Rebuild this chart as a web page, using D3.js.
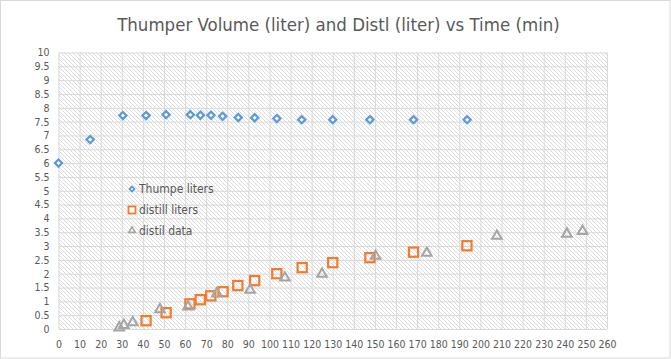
<!DOCTYPE html>
<html><head><meta charset="utf-8">
<script src="https://cdn.jsdelivr.net/npm/d3@7/dist/d3.min.js"></script>
<style>body{margin:0;background:#fff}svg{display:block}</style>
</head><body>
<svg id="c" width="671" height="359"></svg>
<script>
const title = "Thumper Volume (liter) and Distl (liter) vs Time (min)";
const thumperTime = [0, 15, 30.5, 41.5, 51, 62.5, 67.3, 72.3, 77.8, 85.2, 93, 103.5, 115.3, 130, 147.6, 168.3, 193.7];
const thumperVol  = [6.0, 6.85, 7.72, 7.72, 7.75, 7.75, 7.73, 7.73, 7.69, 7.65, 7.64, 7.61, 7.57, 7.57, 7.57, 7.57, 7.57];
const distillTime = [41.5, 51, 62.3, 67.2, 72.2, 78, 85, 93, 103.5, 115.5, 130, 147.6, 168.3, 193.6];
const distillVol  = [0.30, 0.59, 0.91, 1.06, 1.20, 1.35, 1.57, 1.75, 2.00, 2.22, 2.40, 2.58, 2.78, 3.01];
const distilTime  = [28.8, 31, 35.2, 48.1, 61.4, 75, 90.8, 107.3, 124.9, 150.3, 174.6, 207.8, 241, 248.4];
const distilVol   = [0.05, 0.14, 0.24, 0.71, 0.81, 1.28, 1.41, 1.85, 1.99, 2.64, 2.75, 3.36, 3.44, 3.54];
const xTicks = d3.range(0, 261, 10);
const yTicks = d3.range(0, 10.01, 0.5);
const legendLabels = ["Thumpe liters", "distill liters", "distil data"];

const svg = d3.select("#c");
const font = "'Liberation Sans Narrow','DejaVu Sans Condensed',sans-serif";
const txt = "#595959", grid = "#d9d9d9";
const x = d3.scaleLinear().domain([0, 260]).range([58.5, 607]);
const y = d3.scaleLinear().domain([0, 10]).range([329, 52.5]);

svg.append("rect").attr("x",0.5).attr("y",0.5).attr("width",669.5).attr("height",357.5)
  .attr("fill","#fff").attr("stroke","#d9d9d9");

const defs = svg.append("defs");
const pat = defs.append("pattern").attr("id","hatch").attr("patternUnits","userSpaceOnUse")
  .attr("width",4).attr("height",4);
pat.append("path").attr("d","M-1,-1L5,5M-1,3L1,5M3,-1L5,1").attr("stroke","#d3d3d3").attr("stroke-width",0.8);

svg.append("rect").attr("x",x(0)).attr("y",y(10)).attr("width",x(260)-x(0)).attr("height",y(0)-y(10))
  .attr("fill","url(#hatch)");

// gridlines via axes
const gx = svg.append("g").attr("transform",`translate(0,${y(0)})`)
  .call(d3.axisBottom(x).tickValues(xTicks).tickSize(-(y(0)-y(10))).tickPadding(12).tickFormat(d3.format("d")));
const gy = svg.append("g").attr("transform",`translate(${x(0)},0)`)
  .call(d3.axisLeft(y).tickValues(yTicks).tickSize(-(x(260)-x(0))).tickPadding(8).tickFormat(d => d3.format("")(d)));
[gx, gy].forEach(g => {
  g.select(".domain").remove();
  g.selectAll(".tick line").attr("stroke", grid).attr("stroke-width",1);
  g.selectAll(".tick text").attr("fill", txt).attr("font-family", font).attr("font-size", 10.5);
});
gy.selectAll(".tick text").attr("dx", -1);

// markers
const diamond = d3.symbol().type(d3.symbolSquare).size(26);
svg.append("g").selectAll("path").data(thumperTime).join("path")
  .attr("d", diamond())
  .attr("transform",(d,i)=>`translate(${x(d)},${y(thumperVol[i])}) rotate(45)`)
  .attr("fill","#fff").attr("stroke","#5b9bd5").attr("stroke-width",2.2);

svg.append("g").selectAll("rect").data(distillTime).join("rect")
  .attr("x",d=>x(d)-4.6).attr("y",(d,i)=>y(distillVol[i])-4.6).attr("width",9.2).attr("height",9.2)
  .attr("fill","none").attr("stroke","#ed7d31").attr("stroke-width",2.2);

const tri = d3.symbol().type(d3.symbolTriangle).size(40);
svg.append("g").selectAll("path").data(distilTime).join("path")
  .attr("d", tri())
  .attr("transform",(d,i)=>`translate(${x(d)},${y(distilVol[i])})`)
  .attr("fill","none").attr("stroke","#a5a5a5").attr("stroke-width",2);

// legend
const lg = svg.append("g");
const ly = [189, 210, 230.5], lx = 132;
lg.append("path").attr("d", d3.symbol().type(d3.symbolSquare).size(12)())
  .attr("transform",`translate(${lx},${ly[0]}) rotate(45)`).attr("fill","#fff").attr("stroke","#5b9bd5").attr("stroke-width",1.8);
lg.append("rect").attr("x",lx-3.5).attr("y",ly[1]-3.5).attr("width",7).attr("height",7)
  .attr("fill","#fff").attr("stroke","#ed7d31").attr("stroke-width",1.8);
lg.append("path").attr("d", d3.symbol().type(d3.symbolTriangle).size(18)())
  .attr("transform",`translate(${lx},${ly[2]})`).attr("fill","#fff").attr("stroke","#a5a5a5").attr("stroke-width",1.6);
lg.selectAll("text").data(legendLabels).join("text")
  .attr("x", 139).attr("y",(d,i)=>ly[i]+4).text(d=>d)
  .attr("fill", txt).attr("font-family", font).attr("font-size", 12);

// title fitted to width
const t = svg.append("text").attr("x", 338.5).attr("y", 31).attr("text-anchor","middle")
  .attr("fill", txt).attr("font-family", font).attr("font-size", 20).text(title);
const w = t.node().getComputedTextLength();
t.attr("font-size", 20 * 443 / w);
</script>
</body></html>
